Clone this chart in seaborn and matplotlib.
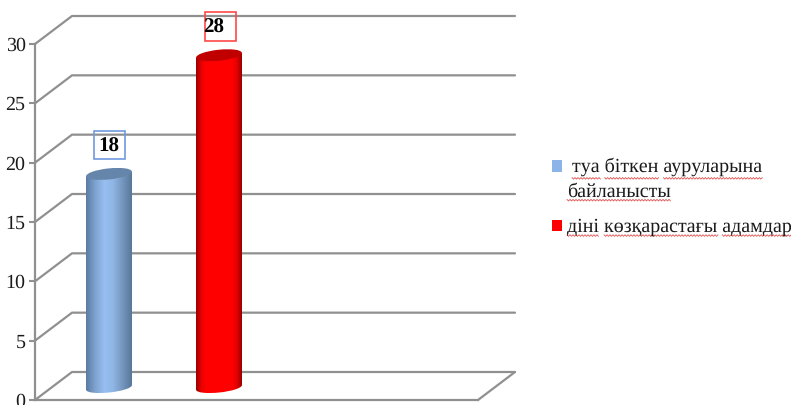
import numpy as np
import matplotlib
matplotlib.use("Agg")
import matplotlib.pyplot as plt
from matplotlib.colors import LinearSegmentedColormap
from matplotlib.patches import Ellipse, Rectangle, Patch, Polygon
from matplotlib.legend_handler import HandlerPatch
from matplotlib.transforms import Affine2D, IdentityTransform
import seaborn as sns

categories = ["туа біткен ауруларына\nбайланысты", "діні көзқарастағы адамдар"]
legend_labels = [" туа біткен ауруларына\nбайланысты", "діні көзқарастағы адамдар"]
values = [18, 28]
yticks = [0, 5, 10, 15, 20, 25, 30]
bar_colors = ["#8DB4E8", "#FF0000"]
legend_colors = ["#8DB4E8", "#FF0000"]
top_colors = ["#6685AB", "#C00000"]
gradients = [["#5A7BA2", "#7FA3D0", "#97BFF0", "#8FB5E4", "#7495BE", "#587898"],
             ["#980000", "#E80000", "#FF0000", "#FF0000", "#FF0000", "#FF0000", "#FF0000",
              "#FF0000", "#E80000", "#980000"]]
label_box_colors = ["#6F9AE0", "#FF4848"]
GREY = "#909090"
SERIF = ["Liberation Serif", "DejaVu Serif"]

W, H = 791, 405
sns.set_theme(style="white")
plt.rcParams["font.family"] = SERIF
plt.rcParams["text.hinting"] = "no_hinting"
plt.rcParams["text.hinting_factor"] = 1

fig = plt.figure(figsize=(W / 100, H / 100), dpi=100, facecolor="white")
# pixels: left 35, right 478, baseline 400, value 30 at 44
ax = fig.add_axes([35 / W, (H - 400) / H, (478 - 35) / W, 356 / H])

sns.barplot(x=categories, y=values, hue=categories, palette=bar_colors, dodge=False,
            width=46 / 110, saturation=1, legend=False, ax=ax, zorder=3)

xl, xr = (35 - 109) / 110, (478 - 109) / 110
ax.set_xlim(xl, xr)
ax.set_ylim(0, 30)
ax.set_xticks([])
ax.set_xlabel("")
ax.set_yticks(yticks)
ax.tick_params(axis="y", left=True, length=4.3, width=1.5, color=GREY, pad=2.5,
               labelsize=14.5, labelcolor="#1A1A1A")
for s in ("top", "right"):
    ax.spines[s].set_visible(False)
for s in ("left", "bottom"):
    ax.spines[s].set_color(GREY)
    ax.spines[s].set_linewidth(1.6)
ax.patch.set_alpha(0)

# 3-D walls: depth 37 px to the right, 28 px up
dx, dy = 37 / 110, 28 * 30 / 356
for t in yticks:
    ax.plot([xl, xl + dx, xr + dx], [t, t + dy, t + dy], color=GREY, lw=1.6,
            clip_on=False, zorder=1, solid_joinstyle="miter")
ax.plot([xr, xr + dx], [0, dy], color=GREY, lw=1.6, clip_on=False, zorder=1)

# cylinders
lift = 12.5
tilt = 2.4
offset = ax.transData + Affine2D().translate(0, lift)
bars = [p for p in ax.patches if p.get_height() > 0]
bars.sort(key=lambda p: p.get_x())
for i, (bar, v) in enumerate(zip(bars, values)):
    bar.set_transform(offset)
    bar.set_alpha(0)
    x0, w = bar.get_x(), bar.get_width()
    cmap = LinearSegmentedColormap.from_list("g", gradients[i])
    grad = np.linspace(0, 1, 128).reshape(1, -1)
    cx, y_top = ax.transData.transform((x0 + w / 2, v))
    _, y_bot = ax.transData.transform((x0 + w / 2, 0))
    px_w = ax.transData.transform((x0 + w, 0))[0] - ax.transData.transform((x0, 0))[0]

    body = Polygon([(cx - px_w / 2, y_top + lift - tilt), (cx + px_w / 2, y_top + lift + tilt),
                    (cx + px_w / 2, y_bot + lift + tilt), (cx - px_w / 2, y_bot + lift - tilt)],
                   closed=True, transform=IdentityTransform(), facecolor="none",
                   edgecolor="none", clip_on=False)
    low = Ellipse((cx, y_bot + lift), px_w, 10, angle=6, transform=IdentityTransform(),
                  facecolor="none", edgecolor="none", clip_on=False)
    ax.add_patch(body)
    ax.add_patch(low)
    for clip in (body, low):
        im = ax.imshow(grad, cmap=cmap, aspect="auto", extent=[x0, x0 + w, -2, v + 1],
                       zorder=4, interpolation="bilinear")
        im.set_transform(offset)
        im.set_clip_path(clip)
    ax.add_patch(Ellipse((cx, y_top + lift), px_w, 11, angle=6, transform=IdentityTransform(),
                         facecolor=top_colors[i], edgecolor="none", zorder=5, clip_on=False))

    # value label and its box
    text_dx = [0, -5][i]
    box_dx = [0.5, 2][i]
    ax.annotate(str(v), (x0 + w / 2, v), xytext=(text_dx * 0.72, (lift + 27.5) * 0.72),
                textcoords="offset points", ha="center", va="center", fontsize=15,
                fontweight="bold", color="black", zorder=7, annotation_clip=False)
    ax.add_patch(Rectangle((cx - 15.5 + box_dx, y_top + lift + 14.5), 31, 28.5,
                           transform=IdentityTransform(),
                           facecolor="none", edgecolor=label_box_colors[i], lw=1.2, zorder=6,
                           clip_on=False))
ax.set_xlim(xl, xr)
ax.set_ylim(0, 30)

# legend: square beside the first text line of each entry
def first_line_square(shift):
    def make(legend, orig_handle, xdescent, ydescent, width, height, fontsize):
        return Rectangle((-xdescent, -ydescent + shift), width, height)
    return HandlerPatch(patch_func=make)

handles = [Patch(facecolor=c, edgecolor="none") for c in legend_colors]
leg = fig.legend(handles, legend_labels, loc="upper left", frameon=False,
                 bbox_to_anchor=(552 / W, (H - 157) / H),
                 handlelength=0.5, handleheight=0.5, handletextpad=0.25,
                 labelspacing=0.86, borderpad=0, borderaxespad=0,
                 prop={"family": SERIF, "size": 14.4},
                 handler_map={handles[0]: first_line_square(9.0),
                              handles[1]: first_line_square(-0.5)})
for t in leg.get_texts():
    t.set_linespacing(1.5)
    t.set_color("#1A1A1A")

# spell-check squiggles under the legend words
fig.canvas.draw()
r = fig.canvas.get_renderer()
for t, label in zip(leg.get_texts(), legend_labels):
    bb = t.get_window_extent(r)
    lines = label.split("\n")
    line_h = bb.height / len(lines)
    fp = t.get_fontproperties()
    width = lambda s: r.get_text_width_height_descent(s, fp, False)[0]
    for n, line in enumerate(lines):
        base = bb.y1 - line_h * (n + 1) + 0.5
        pos = 0
        for word in line.split(" "):
            if word:
                start = bb.x0 + width(line[:pos])
                end = bb.x0 + width(line[:pos + len(word)])
                xs = np.arange(start, end + 1, 1.5)
                ys = base + np.where(np.arange(len(xs)) % 2 == 0, 0.8, -0.8)
                fig.add_artist(plt.Line2D(xs, ys, transform=IdentityTransform(),
                                          color="#E05050", lw=0.6))
            pos += len(word) + 1

fig.savefig("out.png", dpi=100, facecolor="white")
